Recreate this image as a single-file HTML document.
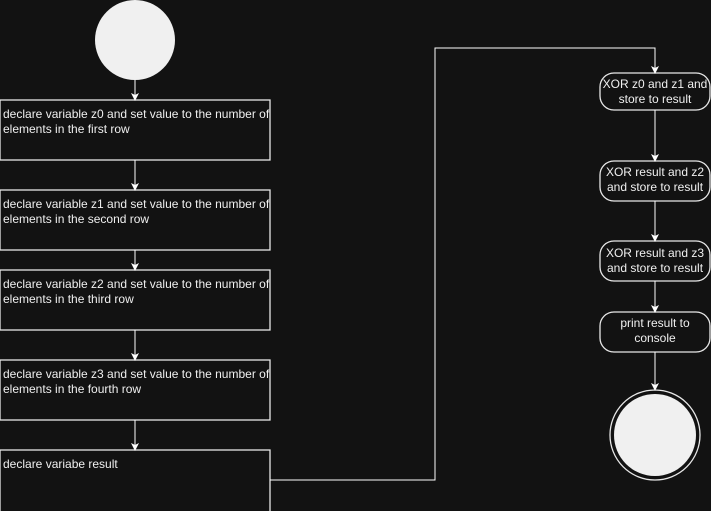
<!DOCTYPE html><html><head><style>body{margin:0;background:#121212;}svg{display:block}text{font-family:"Liberation Sans",sans-serif;font-size:12px;fill:#f0f0f0}</style></head><body>
<svg width="711" height="511" viewBox="0 0 711 511">
<defs><marker id="a" markerWidth="8" markerHeight="8" refX="7" refY="4" orient="auto" markerUnits="userSpaceOnUse"><path d="M0,0L8,4L0,8L2,4z" fill="#fff"/></marker></defs>
<rect width="711" height="511" fill="#121212"/>
<circle cx="135" cy="40" r="40" fill="#f0f0f0"/>
<g stroke="#e8e8e8" stroke-width="1.3" fill="#121212">
<rect x="0" y="100" width="270" height="60"/>
<rect x="0" y="190" width="270" height="60"/>
<rect x="0" y="270" width="270" height="60"/>
<rect x="0" y="360" width="270" height="60"/>
<rect x="0" y="450" width="270" height="70"/>
<rect x="600" y="73" width="110" height="37" rx="14"/>
<rect x="600" y="161" width="110" height="40" rx="14"/>
<rect x="600" y="241" width="110" height="40" rx="14"/>
<rect x="600" y="312" width="110" height="40" rx="14"/>
</g>
<circle cx="655" cy="435" r="45" fill="none" stroke="#e8e8e8" stroke-width="1.3"/>
<circle cx="655" cy="435" r="41" fill="#f0f0f0"/>
<g stroke="#fff" stroke-width="1" fill="none" marker-end="url(#a)">
<path d="M135,80V100"/><path d="M135,160V190"/><path d="M135,250V270"/><path d="M135,330V360"/><path d="M135,420V450"/>
<path d="M270,480H435V48H655V73"/>
<path d="M655,110V161"/><path d="M655,201V241"/><path d="M655,281V312"/><path d="M655,352V390"/>
</g>
<text x="3" y="118">declare variable z0 and set value to the number of</text><text x="3" y="133">elements in the first row</text>
<text x="3" y="208">declare variable z1 and set value to the number of</text><text x="3" y="223">elements in the second row</text>
<text x="3" y="288">declare variable z2 and set value to the number of</text><text x="3" y="303">elements in the third row</text>
<text x="3" y="378">declare variable z3 and set value to the number of</text><text x="3" y="393">elements in the fourth row</text>
<text x="3" y="468">declare variabe result</text>
<g text-anchor="middle">
<text x="655" y="88">XOR z0 and z1 and</text><text x="655" y="103">store to result</text>
<text x="655" y="176">XOR result and z2</text><text x="655" y="191">and store to result</text>
<text x="655" y="257">XOR result and z3</text><text x="655" y="272">and store to result</text>
<text x="655" y="327">print result to</text><text x="655" y="342">console</text>
</g>
</svg></body></html>
